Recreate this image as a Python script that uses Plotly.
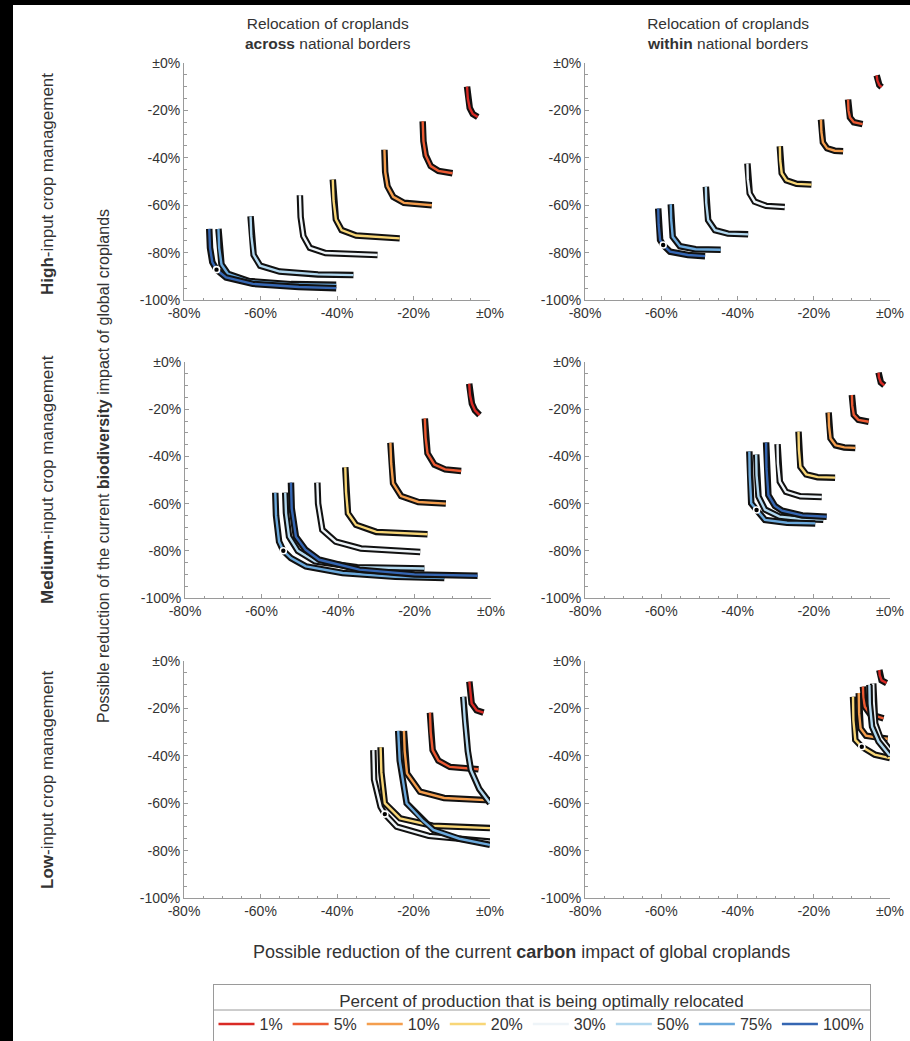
import plotly.graph_objects as go

# ---------------- data ----------------
PERCENTS = ["1%", "5%", "10%", "20%", "30%", "50%", "75%", "100%"]

X_TICK_VALUES = [-80, -60, -40, -20, 0]
X_TICK_LABELS = ["-80%", "-60%", "-40%", "-20%", "±0%"]
Y_TICK_VALUES = [-100, -80, -60, -40, -20, 0]
Y_TICK_LABELS = ["-100%", "-80%", "-60%", "-40%", "-20%", "±0%"]

COLUMN_TITLES = ["Relocation of croplands<br><b>across</b> national borders",
                 "Relocation of croplands<br><b>within</b> national borders"]
ROW_TITLES = ["<b>High</b>-input crop management",
              "<b>Medium</b>-input crop management",
              "<b>Low</b>-input crop management"]
X_TITLE = "Possible reduction of the current <b>carbon</b> impact of global croplands"
Y_TITLE = "Possible reduction of the current <b>biodiversity</b> impact of global croplands"
LEGEND_TITLE = "Percent of production that is being optimally relocated"

# Pareto fronts: percent -> (carbon reduction [%], biodiversity reduction [%])
HIGH_ACROSS = {
    "1%": ([-6.0, -5.8, -5.3, -4.5, -3.2], [-10, -15, -19, -21.5, -22.8]),
    "5%": ([-17.6, -17.4, -16.8, -15.5, -13.5, -9.8], [-24.6, -33, -39, -43.5, -45.5, -46.5]),
    "10%": ([-27.6, -27.4, -26.8, -25.3, -22.5, -15.2], [-36.6, -46, -52, -56.5, -59, -60]),
    "20%": ([-41.1, -40.9, -40.3, -38.8, -35.0, -23.6], [-49.2, -58, -66, -70.5, -72.8, -74]),
    "30%": ([-49.7, -49.5, -48.8, -47.1, -43.0, -29.4], [-55.8, -65, -73, -78, -80.2, -81]),
    "50%": ([-62.6, -62.4, -61.8, -60.1, -55.0, -45.0, -35.7], [-64.7, -73, -81, -85.5, -88, -89.2, -89.5]),
    "75%": ([-71.0, -70.8, -70.2, -68.5, -63.0, -52.0, -40.2], [-70, -78, -85, -89, -92, -93.3, -93.6]),
    "100%": ([-73.4, -73.2, -72.6, -71.5, -69.0, -62.0, -50.0, -40.2], [-70, -78, -84, -87.2, -90.5, -93.2, -94.5, -95]),
}
HIGH_ACROSS_DOT = ([-71.5], [-87.2])

HIGH_WITHIN = {
    "1%": ([-3.5, -3.3, -2.8, -2.2], [-5.2, -7.5, -9.3, -10.2]),
    "5%": ([-11.0, -10.9, -10.5, -9.5, -7.2], [-15.4, -20, -23, -25, -25.8]),
    "10%": ([-18.1, -18.0, -17.6, -16.5, -14.5, -12.3], [-23.9, -29, -33.5, -36, -37, -37.2]),
    "20%": ([-28.9, -28.8, -28.4, -27.2, -24.5, -20.6], [-35.1, -41, -46.5, -49.5, -51, -51.3]),
    "30%": ([-37.4, -37.3, -36.8, -35.5, -32.5, -27.6], [-42.4, -49, -55, -58.5, -60.3, -60.8]),
    "50%": ([-48.3, -48.2, -47.7, -45.9, -42.5, -37.2], [-52.2, -59, -66.3, -70.5, -72, -72.3]),
    "75%": ([-57.5, -57.4, -57.0, -55.1, -51.0, -44.4], [-59.6, -66, -73.3, -77.3, -78.6, -78.8]),
    "100%": ([-60.8, -60.7, -60.3, -59.5, -57.7, -53.0, -48.5], [-61.4, -68, -74.7, -76.8, -79.6, -81, -81.5]),
}
HIGH_WITHIN_DOT = ([-59.5], [-76.8])

MEDIUM_ACROSS = {
    "1%": ([-5.7, -5.5, -5.0, -4.2, -3.0], [-9.2, -14, -17.6, -20.5, -22.5]),
    "5%": ([-17.3, -17.1, -16.6, -14.8, -12.0, -7.8], [-23.9, -32, -38.7, -43.5, -45.5, -46.2]),
    "10%": ([-26.3, -26.1, -25.6, -23.5, -19.0, -11.8], [-34.2, -43, -51.4, -56.8, -59.3, -60]),
    "20%": ([-38.1, -37.9, -37.4, -35.3, -30.0, -16.6], [-44.6, -55, -64.1, -69, -72, -73]),
    "30%": ([-45.4, -45.2, -44.1, -40.6, -34.0, -18.5], [-51.1, -60, -71.1, -76.1, -79, -80.5]),
    "50%": ([-53.8, -53.6, -52.8, -50.5, -46.0, -35.0, -17.4], [-55.4, -64, -74, -80, -84.5, -87, -87.5]),
    "75%": ([-56.4, -56.2, -55.4, -54.3, -52.3, -48.4, -38.8, -25.0, -12.2],
            [-55.4, -65, -76.1, -80, -83.1, -86.6, -89.4, -91, -91.5]),
    "100%": ([-52.3, -52.1, -51.0, -48.5, -44.9, -34.4, -20.0, -3.5], [-51.1, -62, -74, -79.5, -83.8, -88, -90, -90.6]),
}
MEDIUM_ACROSS_DOT = ([-54.3], [-80.0])

MEDIUM_WITHIN = {
    "1%": ([-3.0, -2.9, -2.4, -1.5], [-4.5, -6.5, -8.7, -9.9]),
    "5%": ([-10.0, -9.9, -9.5, -8.3, -5.6], [-14.0, -18.5, -22.4, -24.5, -25.3]),
    "10%": ([-16.1, -16.0, -15.6, -14.3, -12.0, -9.1], [-21.4, -27, -32.4, -35.3, -36.2, -36.4]),
    "20%": ([-24.0, -23.9, -23.5, -22.0, -19.0, -14.4], [-29.5, -37, -44.4, -47.6, -48.8, -49]),
    "30%": ([-29.5, -29.4, -28.9, -27.3, -23.5, -17.9], [-34.8, -43, -50.7, -55, -56.9, -57.2]),
    "50%": ([-35.1, -35.0, -34.5, -32.8, -29.0, -23.0, -17.5], [-39.2, -48, -57, -62.5, -65.5, -66.5, -66.8]),
    "75%": ([-36.9, -36.8, -36.4, -35.0, -32.8, -27.0, -19.6], [-37.9, -48, -59.9, -62.7, -66.9, -68.1, -68.4]),
    "100%": ([-32.5, -32.4, -31.9, -30.2, -28.3, -23.0, -16.6], [-34.1, -45, -56.4, -61, -63, -65, -65.6]),
}
MEDIUM_WITHIN_DOT = ([-35.0], [-62.7])

LOW_ACROSS = {
    "1%": ([-5.4, -5.2, -4.8, -3.5, -1.7], [-8.7, -13, -17.9, -20.8, -21.8]),
    "5%": ([-15.7, -15.5, -15.0, -13.5, -10.5, -3.0], [-21.8, -30, -37.6, -42, -44.7, -45.7]),
    "10%": ([-22.5, -22.3, -21.7, -18.3, -12.0, 0.0], [-29.5, -38, -47.4, -55.1, -57.8, -58.8]),
    "20%": ([-28.6, -28.4, -27.5, -23.5, -15.0, 0.0], [-36.4, -47, -60, -66.4, -69.5, -70.5]),
    "30%": ([-30.5, -30.3, -28.6, -27.5, -24.4, -16.0, 0.0], [-37.6, -50, -61.5, -64.6, -69.9, -73.8, -76.2]),
    "50%": ([-7.0, -6.6, -5.8, -5.0, -2.8, 0.0], [-15.1, -25, -38, -46, -54, -60]),
    "75%": ([-24.0, -23.6, -21.8, -17.5, -14.8, -8.0, 0.0], [-29.5, -42, -60, -67.5, -71.3, -75, -77.6]),
}
LOW_ACROSS_DOT = ([-27.5], [-64.6])

LOW_WITHIN = {
    "1%": ([-2.8, -2.7, -2.2, -0.9], [-3.8, -6, -8.2, -9.3]),
    "5%": ([-7.1, -7.0, -6.6, -5.2, -1.7], [-10.8, -15.5, -19.3, -22.5, -24.2]),
    "10%": ([-8.2, -8.1, -7.7, -6.3, -3.0, -0.6], [-13.5, -22, -28.5, -31.5, -32.5, -32.8]),
    "20%": ([-9.7, -9.6, -9.1, -7.4, -4.0, 0.0], [-15.1, -25, -33.3, -36.2, -39.5, -41]),
    "30%": ([-4.4, -4.3, -3.9, -2.5, 0.0], [-9.5, -17, -26.3, -32.5, -37.6]),
    "50%": ([-5.4, -5.3, -4.7, -3.0, 0.0], [-10.1, -18, -27.7, -34, -40]),
}
LOW_WITHIN_DOT = ([-7.4], [-36.2])

# ---------------- styling / layout ----------------
COLORS = {"1%": "#d92a25", "5%": "#ec5a33", "10%": "#f49e4e", "20%": "#f8d677",
          "30%": "#eef4f8", "50%": "#b2d8ef", "75%": "#6ba9dc", "100%": "#3566b2"}

W, H = 910, 1041
# pixel boxes: (left, right, top, bottom)
PANELS = [
    (HIGH_ACROSS, HIGH_ACROSS_DOT, (184, 490, 63, 300)),
    (HIGH_WITHIN, HIGH_WITHIN_DOT, (585, 890, 63, 300)),
    (MEDIUM_ACROSS, MEDIUM_ACROSS_DOT, (185, 491, 362, 598)),
    (MEDIUM_WITHIN, MEDIUM_WITHIN_DOT, (585, 890, 362, 598)),
    (LOW_ACROSS, LOW_ACROSS_DOT, (184, 490, 661, 898)),
    (LOW_WITHIN, LOW_WITHIN_DOT, (585, 890, 661, 898)),
]

FONT = "Liberation Sans, Arial, sans-serif"
AXIS_GREY = "#9a9a9a"
TEXT = "#333333"

fig = go.Figure()
layout_axes = {}
for i, (curves, dot, (l, r, t, b)) in enumerate(PANELS):
    n = i + 1
    xs = "x" if n == 1 else f"x{n}"
    ys = "y" if n == 1 else f"y{n}"
    for p in PERCENTS:
        if p not in curves:
            continue
        cx, cy = curves[p]
        fig.add_trace(go.Scatter(x=cx, y=cy, mode="lines", xaxis=xs, yaxis=ys,
                                 line=dict(color="#111111", width=6.5), showlegend=False,
                                 hoverinfo="skip", cliponaxis=False))
        fig.add_trace(go.Scatter(x=cx, y=cy, mode="lines", xaxis=xs, yaxis=ys,
                                 line=dict(color=COLORS[p], width=2.4), name=p,
                                 showlegend=(n == 1), cliponaxis=False))
    fig.add_trace(go.Scatter(x=dot[0], y=dot[1], mode="markers", xaxis=xs, yaxis=ys,
                             marker=dict(color="black", size=6, line=dict(color="white", width=1.6)),
                             showlegend=False, cliponaxis=False))
    common = dict(showline=True, linecolor=AXIS_GREY, linewidth=1, ticks="inside",
                  tickcolor=AXIS_GREY, ticklen=4, showgrid=False, zeroline=False,
                  tickfont=dict(family=FONT, size=14, color=TEXT), fixedrange=True)
    layout_axes["xaxis" if n == 1 else f"xaxis{n}"] = dict(
        common, domain=[l / W, r / W], range=[-80, 0], anchor=ys,
        tickmode="array", tickvals=X_TICK_VALUES, ticktext=X_TICK_LABELS,
        minor=dict(ticks="inside", ticklen=2.5, tickcolor=AXIS_GREY, tickmode="linear", tick0=0, dtick=5))
    layout_axes["yaxis" if n == 1 else f"yaxis{n}"] = dict(
        common, domain=[1 - b / H, 1 - t / H], range=[-100, 0], anchor=xs,
        tickmode="array", tickvals=Y_TICK_VALUES, ticktext=Y_TICK_LABELS,
        minor=dict(ticks="inside", ticklen=2.5, tickcolor=AXIS_GREY, tickmode="linear", tick0=0, dtick=5))


def note(text, x, y, size, angle=0):
    return dict(text=text, x=x / W, y=1 - y / H, xref="paper", yref="paper",
                xanchor="center", yanchor="middle", showarrow=False, textangle=angle,
                font=dict(family=FONT, size=size, color=TEXT))


annotations = []
for title, cx in zip(COLUMN_TITLES, [328, 728]):
    annotations.append(note(title, cx, 33, 15.5))
for title, cy in zip(ROW_TITLES, [184, 480, 780]):
    annotations.append(note(title, 47, cy, 17, -90))
annotations.append(note(Y_TITLE, 103, 466, 16, -90))
annotations.append(note(X_TITLE, 521, 952, 18))

shapes = [
    dict(type="rect", xref="paper", yref="paper", x0=13 / W, x1=1.01, y0=-0.01, y1=1 - 5 / H,
         fillcolor="white", line=dict(width=0), layer="below"),
    dict(type="line", xref="paper", yref="paper", x0=213 / W, x1=870 / W, y0=1 - 1010 / H, y1=1 - 1010 / H,
         line=dict(color=AXIS_GREY, width=1)),
]

fig.update_layout(
    width=W, height=H, margin=dict(l=0, r=0, t=0, b=0, autoexpand=False),
    paper_bgcolor="black", plot_bgcolor="rgba(0,0,0,0)",
    annotations=annotations, shapes=shapes,
    legend=dict(orientation="h", x=541.5 / W, xanchor="center", y=1 - 984 / H, yanchor="top",
                bordercolor=AXIS_GREY, borderwidth=1, bgcolor="rgba(0,0,0,0)", itemwidth=36,
                font=dict(family=FONT, size=16, color=TEXT), tracegroupgap=0,
                title=dict(text=LEGEND_TITLE, side="top center",
                           font=dict(family=FONT, size=17, color=TEXT))),
    **layout_axes,
)

fig.write_html("out.html", config={"displayModeBar": False},
               post_script="document.body.style.margin='0px';")
